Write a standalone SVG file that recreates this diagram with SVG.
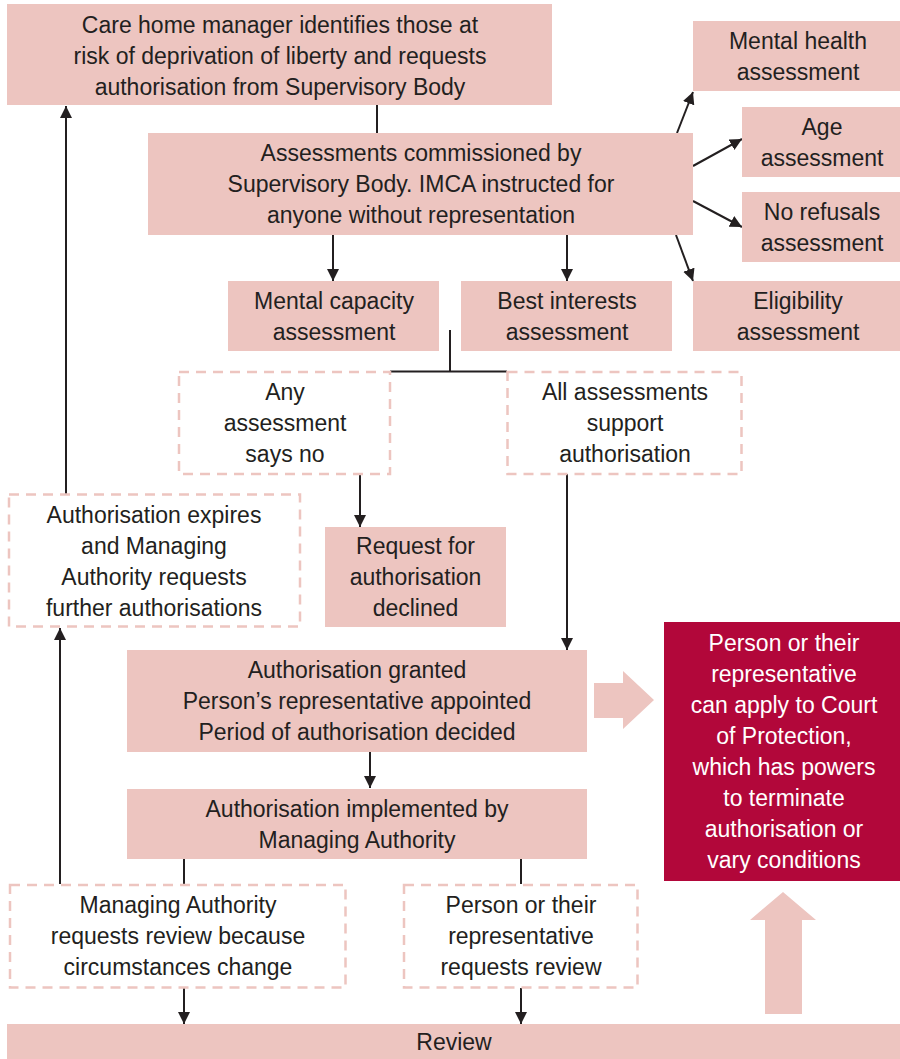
<svg xmlns="http://www.w3.org/2000/svg" width="900" height="1059" viewBox="0 0 900 1059">
<style>
.box{fill:#EDC5C0;}
.dash{fill:#FFFFFF;stroke:#EDC5C0;stroke-width:2.5;stroke-dasharray:10 7;}
.red{fill:#B2073A;}
.t{font-family:"Liberation Sans",Arial,sans-serif;font-size:23px;fill:#231F20;text-anchor:middle;}
.w{fill:#FFFFFF;}
.ln{stroke:#231F20;stroke-width:2;fill:none;}
.arr{stroke:#231F20;stroke-width:2;fill:none;marker-end:url(#ah);}
.blk{fill:#EDC5C0;}
</style>
<defs>
<marker id="ah" viewBox="0 0 10 10" refX="10" refY="5" markerWidth="6" markerHeight="6" markerUnits="strokeWidth" orient="auto">
<path d="M0,0 L10,5 L0,10 z" fill="#231F20"/>
</marker>
</defs>

<g id="connectors">
<line class="ln" x1="377" y1="105" x2="377" y2="133"/>
<line class="arr" x1="333" y1="235" x2="333" y2="281"/>
<line class="arr" x1="567" y1="235" x2="567" y2="281"/>
<line class="arr" x1="677" y1="133" x2="693" y2="92"/>
<line class="arr" x1="693" y1="166" x2="742" y2="139"/>
<line class="arr" x1="693" y1="201" x2="742" y2="227"/>
<line class="arr" x1="676" y1="235" x2="693" y2="281"/>
<line class="ln" x1="450" y1="330" x2="450" y2="371.5"/>
<line class="ln" x1="390" y1="371.5" x2="507" y2="371.5" stroke-width="2.5"/>
<line class="arr" x1="360" y1="474" x2="360" y2="527"/>
<line class="arr" x1="567" y1="474" x2="567" y2="650"/>
<line class="arr" x1="66" y1="494" x2="66" y2="106"/>
<line class="arr" x1="60" y1="884" x2="60" y2="628"/>
<line class="arr" x1="370" y1="752" x2="370" y2="788"/>
<line class="ln" x1="184" y1="859" x2="184" y2="884"/>
<line class="ln" x1="521" y1="859" x2="521" y2="884"/>
<line class="arr" x1="184" y1="988" x2="184" y2="1024"/>
<line class="arr" x1="521" y1="988" x2="521" y2="1024"/>
<polygon class="blk" points="594,683 623,683 623,671 654,700 623,729 623,718 594,718"/>
<polygon class="blk" points="765,1014 765,920 750,920 783,892 816,920 802,920 802,1014"/>
</g>

<g id="n-care-home">
<rect class="box" x="7" y="4" width="545" height="101"/>
<text class="t" x="280" y="33">Care home manager identifies those at</text>
<text class="t" x="280" y="64">risk of deprivation of liberty and requests</text>
<text class="t" x="280" y="95">authorisation from Supervisory Body</text>
</g>

<g id="n-commissioned">
<rect class="box" x="148" y="133" width="545" height="102"/>
<text class="t" x="421" y="161">Assessments commissioned by</text>
<text class="t" x="421" y="192">Supervisory Body. IMCA instructed for</text>
<text class="t" x="421" y="223">anyone without representation</text>
</g>

<g id="n-mental-health">
<rect class="box" x="693" y="21" width="207" height="70"/>
<text class="t" x="798" y="48.5">Mental health</text>
<text class="t" x="798" y="79.5">assessment</text>
</g>

<g id="n-age">
<rect class="box" x="742" y="107" width="158" height="70"/>
<text class="t" x="822" y="134.5">Age</text>
<text class="t" x="822" y="165.5">assessment</text>
</g>

<g id="n-no-refusals">
<rect class="box" x="742" y="192" width="158" height="70"/>
<text class="t" x="822" y="219.5">No refusals</text>
<text class="t" x="822" y="250.5">assessment</text>
</g>

<g id="n-eligibility">
<rect class="box" x="693" y="281" width="207" height="70"/>
<text class="t" x="798" y="308.5">Eligibility</text>
<text class="t" x="798" y="339.5">assessment</text>
</g>

<g id="n-mental-capacity">
<rect class="box" x="228" y="281" width="211" height="70"/>
<text class="t" x="334" y="308.5">Mental capacity</text>
<text class="t" x="334" y="339.5">assessment</text>
</g>

<g id="n-best-interests">
<rect class="box" x="461" y="281" width="211" height="70"/>
<text class="t" x="567" y="308.5">Best interests</text>
<text class="t" x="567" y="339.5">assessment</text>
</g>

<g id="n-any-no">
<rect class="dash" x="179" y="372" width="211" height="102"/>
<text class="t" x="285" y="400">Any</text>
<text class="t" x="285" y="431">assessment</text>
<text class="t" x="285" y="462">says no</text>
</g>

<g id="n-all-support">
<rect class="dash" x="507.5" y="372" width="234" height="102"/>
<text class="t" x="625" y="400">All assessments</text>
<text class="t" x="625" y="431">support</text>
<text class="t" x="625" y="462">authorisation</text>
</g>

<g id="n-expires">
<rect class="dash" x="9" y="494.5" width="291" height="132"/>
<text class="t" x="154" y="522.5">Authorisation expires</text>
<text class="t" x="154" y="553.5">and Managing</text>
<text class="t" x="154" y="584.5">Authority requests</text>
<text class="t" x="154" y="615.5">further authorisations</text>
</g>

<g id="n-declined">
<rect class="box" x="325" y="527" width="181" height="100"/>
<text class="t" x="415.5" y="554">Request for</text>
<text class="t" x="415.5" y="585">authorisation</text>
<text class="t" x="415.5" y="616">declined</text>
</g>

<g id="n-granted">
<rect class="box" x="127" y="650" width="460" height="102"/>
<text class="t" x="357" y="678">Authorisation granted</text>
<text class="t" x="357" y="709">Person’s representative appointed</text>
<text class="t" x="357" y="740">Period of authorisation decided</text>
</g>

<g id="n-court">
<rect class="red" x="664" y="622" width="236" height="259"/>
<text class="t w" x="784" y="651">Person or their</text>
<text class="t w" x="784" y="682">representative</text>
<text class="t w" x="784" y="713">can apply to Court</text>
<text class="t w" x="784" y="744">of Protection,</text>
<text class="t w" x="784" y="775">which has powers</text>
<text class="t w" x="784" y="806">to terminate</text>
<text class="t w" x="784" y="837">authorisation or</text>
<text class="t w" x="784" y="868">vary conditions</text>
</g>

<g id="n-implemented">
<rect class="box" x="127" y="789" width="460" height="70"/>
<text class="t" x="357" y="816.5">Authorisation implemented by</text>
<text class="t" x="357" y="847.5">Managing Authority</text>
</g>

<g id="n-ma-review">
<rect class="dash" x="10" y="885" width="335.5" height="102.5"/>
<text class="t" x="178" y="913">Managing Authority</text>
<text class="t" x="178" y="944">requests review because</text>
<text class="t" x="178" y="975">circumstances change</text>
</g>

<g id="n-person-review">
<rect class="dash" x="404" y="885" width="233.5" height="102.5"/>
<text class="t" x="521" y="913">Person or their</text>
<text class="t" x="521" y="944">representative</text>
<text class="t" x="521" y="975">requests review</text>
</g>

<g id="n-review">
<rect class="box" x="7" y="1024" width="893" height="35"/>
<text class="t" x="454" y="1050">Review</text>
</g>
</svg>
